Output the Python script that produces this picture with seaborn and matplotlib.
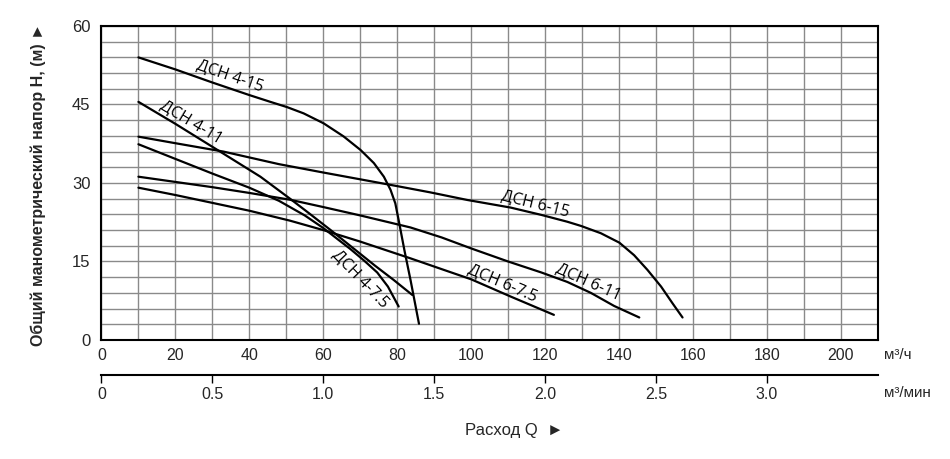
import numpy as np
import pandas as pd
import matplotlib
matplotlib.use("Agg")
import matplotlib.pyplot as plt
import seaborn as sns
from matplotlib import font_manager

# pump curves: flow Q (m3/h) -> head H (m)
q_4_15 = [10, 20, 30, 40, 45.7, 50.2, 54.7, 60.1, 65.5, 70.1, 73.7, 76.4, 78.2, 79.5, 80.4, 82.0, 83.6, 85.9]
h_4_15 = [54.0, 51.7, 49.2, 46.8, 45.5, 44.5, 43.3, 41.4, 38.9, 36.3, 33.8, 31.2, 28.7, 26.1, 22.9, 17.0, 11.5, 3.1]

q_4_11 = [10, 20, 33, 43, 51, 56, 62, 68, 74, 79, 84.1]
h_4_11 = [45.5, 41.3, 35.6, 31.2, 27.0, 24.3, 21.0, 17.6, 14.2, 11.5, 8.6]

q_4_7 = [10, 20, 30, 40, 48, 55, 60, 64, 67.3, 71, 74.6, 77.5, 80.4]
h_4_7 = [37.4, 34.6, 31.8, 29.1, 26.6, 23.8, 21.4, 19.2, 17.4, 15.2, 12.9, 10.2, 6.4]

q_6_15 = [10, 20, 33, 48, 60, 70, 80, 89, 99, 110.7, 119, 126, 129.7, 135.1, 140.1, 144.1, 147.7, 151.4, 154.5, 157.2]
h_6_15 = [38.85, 37.6, 36.0, 33.6, 32.0, 30.7, 29.4, 28.2, 26.75, 25.3, 23.9, 22.6, 21.8, 20.4, 18.6, 16.2, 13.4, 10.2, 7.0, 4.3]

q_6_11 = [10, 20, 30, 40, 51, 60, 70, 83.6, 92, 100, 110, 119, 126, 132.4, 138.7, 145.5]
h_6_11 = [31.2, 30.2, 29.2, 28.1, 26.8, 25.4, 23.8, 21.5, 19.6, 17.5, 15.0, 12.9, 11.1, 9.0, 6.5, 4.3]

q_6_7 = [10, 20, 30, 40, 51, 60, 70, 83.6, 92.6, 100, 110.7, 122.4]
h_6_7 = [29.1, 27.7, 26.2, 24.7, 22.8, 21.0, 18.8, 15.6, 13.4, 11.6, 8.3, 4.8]

models = ["ДСН 4-15", "ДСН 4-11", "ДСН 4-7.5", "ДСН 6-15", "ДСН 6-11", "ДСН 6-7.5"]
flows = [q_4_15, q_4_11, q_4_7, q_6_15, q_6_11, q_6_7]
heads = [h_4_15, h_4_11, h_4_7, h_6_15, h_6_11, h_6_7]

# curve labels: position (Q, H) and angle on screen
label_q = [34.8, 24.2, 70.0, 117.5, 131.9, 108.5]
label_h = [50.4, 41.7, 11.8, 26.1, 11.1, 10.8]
label_rot = [-19, -31, -46, -14, -24, -23]

x_ticks = list(range(0, 201, 20))
y_ticks = [0, 15, 30, 45, 60]
min_ticks = [0, 0.5, 1.0, 1.5, 2.0, 2.5, 3.0]

sns.set_theme(style="white")
names = {f.name for f in font_manager.fontManager.ttflist}
narrow = "Liberation Sans Narrow" if "Liberation Sans Narrow" in names else "Liberation Sans"
plt.rcParams["font.family"] = ["Liberation Sans", "DejaVu Sans"]

frames = []
for name, q, h in zip(models, flows, heads):
    frames.append(pd.DataFrame({"Q": q, "H": h, "model": name}))
df = pd.concat(frames, ignore_index=True)

fig = plt.figure(figsize=(9.5, 4.59), dpi=100)
ax = fig.add_axes([0.1068, 0.2593, 0.9239 - 0.1068, 0.9434 - 0.2593])

sns.lineplot(data=df, x="Q", y="H", units="model", estimator=None, sort=False,
             color="black", lw=1.6, legend=False, ax=ax)

ax.set_xlim(0, 210)
ax.set_ylim(0, 60)
ax.set_xticks(x_ticks)
ax.set_xticks(np.arange(0, 211, 10), minor=True)
ax.set_yticks(y_ticks)
ax.set_yticks(np.arange(0, 61, 3), minor=True)
ax.grid(which="both", color="#8a8a8a", lw=1.0)
ax.set_axisbelow(True)
ax.set_xlabel("")
ax.set_ylabel("")

ax.tick_params(axis="x", which="both", length=0, pad=6)
ax.tick_params(axis="y", which="major", length=6, width=1.2, direction="out",
               color="black", labelsize=12, pad=2)
ax.tick_params(axis="y", which="minor", length=0)
for lab in ax.get_xticklabels():
    lab.set_fontfamily([narrow, "DejaVu Sans"])
    lab.set_fontsize(11.5)
for sp in ax.spines.values():
    sp.set_color("black")
    sp.set_linewidth(1.5)

# second flow scale in m3/min
sec = ax.secondary_xaxis(-0.1115, functions=(lambda q: q / 60.0, lambda m: m * 60.0))
sec.set_xticks(min_ticks)
sec.set_xticklabels(["0" if t == 0 else f"{t:.1f}" for t in min_ticks])
sec.tick_params(axis="x", length=6, width=1.0, direction="out", color="black", pad=3)
sec.spines["bottom"].set_linewidth(1.5)
sec.spines["bottom"].set_color("black")
for lab in sec.get_xticklabels():
    lab.set_fontfamily([narrow, "DejaVu Sans"])
    lab.set_fontsize(11.5)

for name, xq, yh, rot in zip(models, label_q, label_h, label_rot):
    ax.text(xq, yh, name, rotation=rot, ha="center", va="center",
            fontsize=11.5, family=["Open Sans", "DejaVu Sans"], color="black")

fig.text(884 / 950, 1 - 355 / 459, "м³/ч", ha="left", va="center", fontsize=11,
         family=[narrow, "DejaVu Sans"])
fig.text(884 / 950, 1 - 393 / 459, "м³/мин", ha="left", va="center", fontsize=11,
         family=[narrow, "DejaVu Sans"])
fig.text(514 / 950, 1 - 431 / 459, "Расход Q  ►", ha="center", va="center", fontsize=12,
         family=[narrow, "DejaVu Sans"])
fig.text(38 / 950, 1 - 185 / 459, "Общий манометрический напор H, (м) ►", rotation=90,
         ha="center", va="center", fontsize=11.5, fontweight="bold",
         family=["Liberation Sans", "DejaVu Sans"])

fig.savefig("out.png", dpi=100)
